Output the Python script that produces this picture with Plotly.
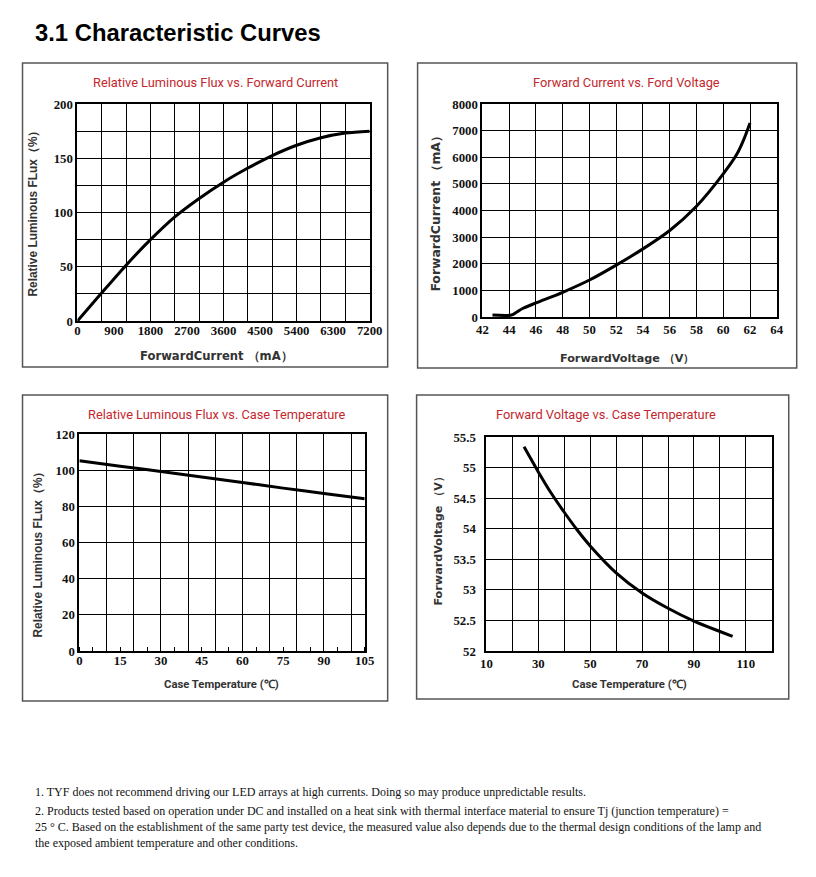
import plotly.graph_objects as go

# figure size
W, H = 816, 877
# measured mapping of the photographed page: shown = S * (figure_px + C)
SX, CX = 0.979, 13.75
SY, CY = 0.984, 14.2

# ---------------- data ----------------
# Panel 1: Relative Luminous Flux vs Forward Current
p1_current = [0, 600, 1200, 1800, 2400, 3000, 3600, 4200, 4800, 5400, 6000, 6600, 7200]
p1_flux = [0, 26, 51.5, 75, 96, 113, 128, 141, 152.5, 162, 169, 173.3, 175]
p1_xtick = [0, 900, 1800, 2700, 3600, 4500, 5400, 6300, 7200]
p1_ytick = [0, 50, 100, 150, 200]

# Panel 2: Forward Current vs Forward Voltage
p2_voltage = [42.75, 44.17, 44.6, 45, 46, 48, 50, 52, 54, 56, 58, 60, 61, 61.5, 62]
p2_current = [75, 75, 200, 320, 530, 930, 1390, 1950, 2560, 3250, 4160, 5375, 6100, 6625, 7290]
p2_xtick = [42, 44, 46, 48, 50, 52, 54, 56, 58, 60, 62, 64]
p2_ytick = [0, 1000, 2000, 3000, 4000, 5000, 6000, 7000, 8000]

# Panel 3: Relative Luminous Flux vs Case Temperature
p3_temp = [0, 15, 30, 45, 60, 75, 90, 105]
p3_flux = [105.2, 102.2, 99.3, 96.3, 93.2, 90.1, 87.1, 84.2]
p3_xtick = [0, 15, 30, 45, 60, 75, 90, 105]
p3_ytick = [0, 20, 40, 60, 80, 100, 120]

# Panel 4: Forward Voltage vs Case Temperature
p4_temp = [24.5, 30, 35, 40, 45, 50, 60, 70, 80, 90, 100, 104.9]
p4_volt = [55.34, 54.93, 54.58, 54.27, 53.98, 53.72, 53.28, 52.95, 52.70, 52.49, 52.32, 52.24]
p4_xtick = [10, 30, 50, 70, 90, 110]
p4_ytick = [52, 52.5, 53, 53.5, 54, 54.5, 55, 55.5]

notes = [
    "1. TYF does not recommend driving our LED arrays at high currents. Doing so may produce unpredictable results.",
    "2. Products tested based on operation under DC and installed on a heat sink with thermal interface material to ensure Tj (junction temperature) =",
    "25 ° C. Based on the establishment of the same party test device, the measured value also depends due to the thermal design conditions of the lamp and",
    "the exposed ambient temperature and other conditions.",
]

# ---------------- helpers ----------------
def px(x):
    return (x / SX - CX) / W

def py(y):
    return 1 - (y / SY - CY) / H

TICKFONT = dict(family="Liberation Serif", size=12.8, color="#111111", weight="bold")
RED = "#C3282E"
TITLEFONT = dict(family="Roboto", size=12.8, color=RED)
AXFONT = dict(family="DejaVu Sans", size=11.6, color="#333333", weight="bold")
AXFONT2 = dict(family="DejaVu Sans", size=11.2, color="#333333", weight="bold")
AXFONT_Y2 = dict(family="DejaVu Sans", size=12.4, color="#333333", weight="bold")
AXFONT_N = dict(family="Roboto", size=11.3, color="#333333", weight="bold")
YFONT = dict(family="Liberation Sans", size=11.9, color="#333333", weight="bold")

def frange(a, b, s):
    out = []
    v = a
    while v <= b + 1e-9:
        out.append(round(v, 6))
        v += s
    return out

grid = dict(showgrid=True, gridcolor="black", gridwidth=1.3, zeroline=False,
            showline=True, mirror=True, linecolor="black", linewidth=2,
            ticks="", fixedrange=True)

fig = go.Figure()
line = dict(color="black", width=3, shape="spline", smoothing=0.8)

fig.add_trace(go.Scatter(x=p1_current, y=p1_flux, mode="lines", line=line,
                         xaxis="x", yaxis="y", hoverinfo="skip", showlegend=False))
fig.add_trace(go.Scatter(x=p1_current, y=p1_flux, mode="lines", line=dict(width=0),
                         xaxis="x5", yaxis="y", hoverinfo="skip", showlegend=False))
fig.add_trace(go.Scatter(x=p2_voltage, y=p2_current, mode="lines", line=line,
                         xaxis="x2", yaxis="y2", hoverinfo="skip", showlegend=False))
fig.add_trace(go.Scatter(x=p3_temp, y=p3_flux, mode="lines", line=line,
                         xaxis="x3", yaxis="y3", hoverinfo="skip", showlegend=False))
fig.add_trace(go.Scatter(x=p3_temp, y=p3_flux, mode="lines", line=dict(width=0),
                         xaxis="x6", yaxis="y3", hoverinfo="skip", showlegend=False))
fig.add_trace(go.Scatter(x=p4_temp, y=p4_volt, mode="lines", line=line,
                         xaxis="x4", yaxis="y4", hoverinfo="skip", showlegend=False))

# plot-area rectangles in page pixels (left, right, top, bottom)
A1 = (77, 370, 103, 320)
A2 = (483, 778, 103, 316)
A3 = (79, 365, 433, 650)
A4 = (487, 773, 436, 650)

def dom(a):
    return [px(a[0]), px(a[1])], [py(a[3]), py(a[2])]

d1x, d1y = dom(A1)
d2x, d2y = dom(A2)
d3x, d3y = dom(A3)
d4x, d4y = dom(A4)

def lbl(v):
    return ("%g" % v)

fig.update_layout(
    width=W, height=H, margin=dict(l=0, r=0, t=0, b=0),
    paper_bgcolor="white", plot_bgcolor="white", showlegend=False,
    # panel 1
    xaxis=dict(domain=d1x, anchor="y", range=[0, 7200],
               tickvals=frange(0, 7200, 600), showticklabels=False, **grid),
    xaxis5=dict(domain=d1x, anchor="y", overlaying="x", range=[0, 7200],
                tickvals=p1_xtick, ticktext=[lbl(v) for v in p1_xtick],
                showgrid=False, zeroline=False, showline=False, ticks="",
                tickfont=TICKFONT, fixedrange=True, side="bottom"),
    yaxis=dict(domain=d1y, anchor="x", range=[0, 200],
               tickvals=frange(0, 200, 25),
               ticktext=[lbl(v) if v in p1_ytick else "" for v in frange(0, 200, 25)],
               tickfont=TICKFONT, **grid),
    # panel 2
    xaxis2=dict(domain=d2x, anchor="y2", range=[42, 64],
                tickvals=p2_xtick, ticktext=[lbl(v) for v in p2_xtick],
                tickfont=TICKFONT, **grid),
    yaxis2=dict(domain=d2y, anchor="x2", range=[0, 8000],
                tickvals=p2_ytick, ticktext=[lbl(v) for v in p2_ytick],
                tickfont=TICKFONT, **grid),
    # panel 3
    xaxis3=dict(domain=d3x, anchor="y3", range=[0, 105],
                tickvals=frange(0, 100, 10), showticklabels=False,
                minor=dict(ticks="inside", ticklen=4, tickwidth=1.3, tickcolor="black",
                           tickmode="linear", tick0=0, dtick=5, showgrid=False),
                **grid),
    xaxis6=dict(domain=d3x, anchor="y3", overlaying="x3", range=[0, 105],
                tickvals=p3_xtick, ticktext=[lbl(v) for v in p3_xtick],
                showgrid=False, zeroline=False, showline=False, ticks="",
                tickfont=TICKFONT, fixedrange=True, side="bottom"),
    yaxis3=dict(domain=d3y, anchor="x3", range=[0, 120],
                tickvals=p3_ytick, ticktext=[lbl(v) for v in p3_ytick],
                tickfont=TICKFONT, **grid),
    # panel 4
    xaxis4=dict(domain=d4x, anchor="y4", range=[10, 120],
                tickvals=frange(10, 120, 10),
                ticktext=[lbl(v) if v in p4_xtick else "" for v in frange(10, 120, 10)],
                tickfont=TICKFONT, **grid),
    yaxis4=dict(domain=d4y, anchor="x4", range=[52, 55.5],
                tickvals=p4_ytick, ticktext=[lbl(v) for v in p4_ytick],
                tickfont=TICKFONT, ticklabelstandoff=6, **grid),
)

# panel frames
shapes = []
for (l, r, t, b) in [(22, 388, 62, 366), (418, 798, 62, 367), (22, 388, 394, 700), (417, 790, 394, 698)]:
    shapes.append(dict(type="rect", xref="paper", yref="paper",
                       x0=px(l), x1=px(r), y0=py(b), y1=py(t),
                       line=dict(color="#555555", width=1.5), fillcolor="rgba(0,0,0,0)", layer="below"))
fig.update_layout(shapes=shapes)

ann = []
def A(text, x, y, font, angle=0, xanchor="center", yanchor="middle"):
    ann.append(dict(text=text, x=px(x), y=py(y), xref="paper", yref="paper",
                    showarrow=False, font=font, textangle=angle,
                    xanchor=xanchor, yanchor=yanchor))

A("<b>3.1 Characteristic Curves</b>", 33, 31,
  dict(family="Liberation Sans", size=23.8, color="black"), xanchor="left")

A("Relative Luminous Flux vs. Forward Current", 215, 81, TITLEFONT)
A("Forward Current vs. Ford Voltage", 627, 81, TITLEFONT)
A("Relative Luminous Flux vs. Case Temperature", 217, 413, TITLEFONT)
A("Forward Voltage vs. Case Temperature", 607, 413, TITLEFONT)

A("ForwardCurrent （mA）", 216, 355, AXFONT)
A("Relative Luminous FLux（%）", 33, 209, YFONT, angle=-90)
A("ForwardVoltage （V）", 628, 357, AXFONT2)
A("ForwardCurrent （mA）", 435, 210, AXFONT_Y2, angle=-90)
A("Case Temperature (℃)", 221, 683, AXFONT_N)
A("Relative Luminous FLux（%）", 38, 550, YFONT, angle=-90)
A("Case Temperature (℃)", 630, 683, AXFONT_N)
A("ForwardVoltage （V）", 438, 538, AXFONT2, angle=-90)

NOTEFONT = dict(family="Liberation Serif", size=12.0, color="#111111")
for txt, yy in zip(notes, [791, 810, 826, 842]):
    A(txt, 33, yy, NOTEFONT, xanchor="left")

fig.update_layout(annotations=ann)
fig.write_html("out.html")
